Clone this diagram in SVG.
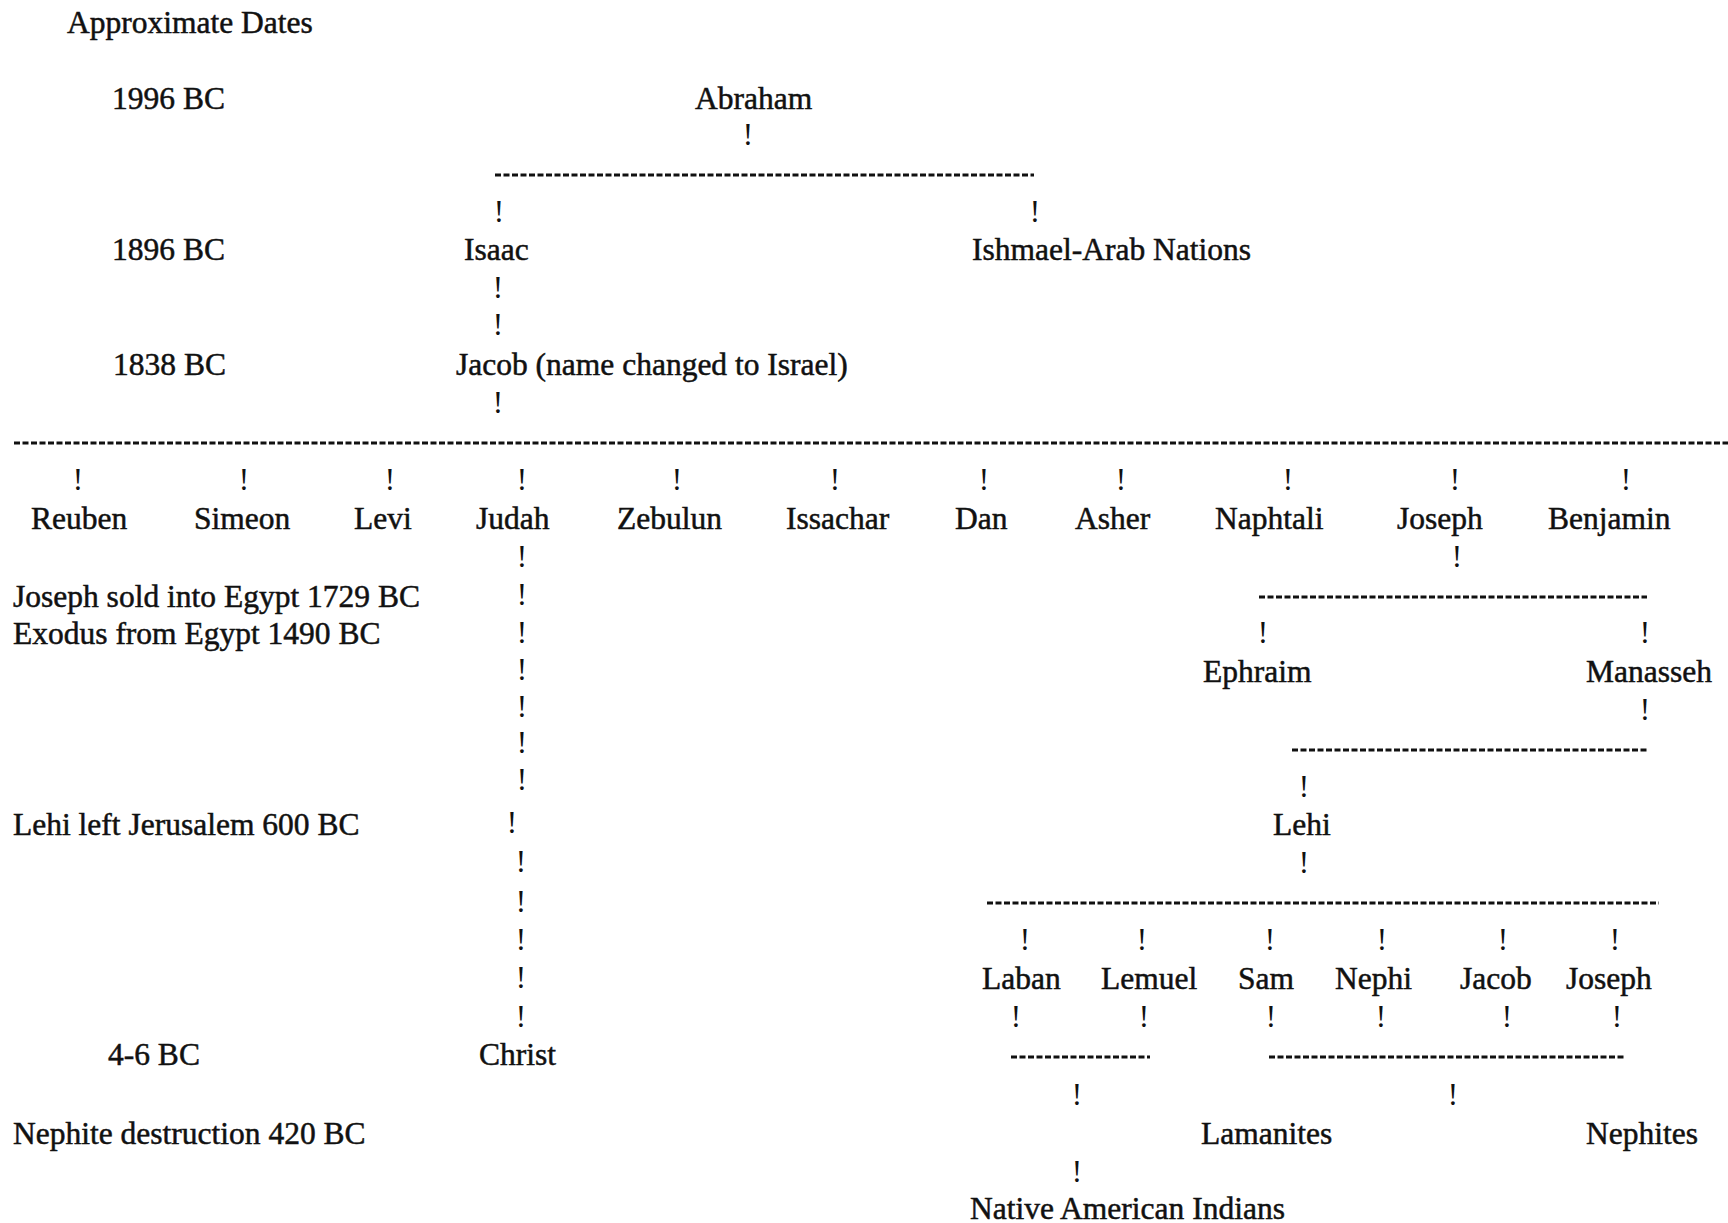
<svg xmlns="http://www.w3.org/2000/svg" width="1728" height="1223" viewBox="0 0 1728 1223">
<style>
text { font-family: "Liberation Serif", "Times New Roman", serif; font-size: 31.5px; fill: #111; }
.lbl text, .lbl { stroke: #111; stroke-width: 0.5; }
.bar { text-anchor: middle; font-size: 31px; }
.dash { stroke: #111; stroke-width: 3; stroke-dasharray: 6 2.5; fill: none; }
</style>
<rect width="1728" height="1223" fill="#fff"/>
<g id="dates" class="lbl" transform="translate(0,2)">
<text x="67" y="31">Approximate Dates</text>
<text x="112" y="107">1996 BC</text>
<text x="112" y="258">1896 BC</text>
<text x="113" y="373">1838 BC</text>
<text x="13" y="605">Joseph sold into Egypt 1729 BC</text>
<text x="13" y="642">Exodus from Egypt 1490 BC</text>
<text x="13" y="833">Lehi left Jerusalem 600 BC</text>
<text x="108" y="1063">4-6 BC</text>
<text x="13" y="1142">Nephite destruction 420 BC</text>
</g>
<g id="connectors">
<line class="dash" x1="495" y1="175" x2="1034" y2="175"/>
<line class="dash" x1="14" y1="443" x2="1728" y2="443"/>
<line class="dash" x1="1259" y1="597" x2="1647" y2="597"/>
<line class="dash" x1="1292" y1="750" x2="1647" y2="750"/>
<line class="dash" x1="987" y1="903" x2="1659" y2="903"/>
<line class="dash" x1="1011" y1="1057" x2="1150" y2="1057"/>
<line class="dash" x1="1269" y1="1057" x2="1626" y2="1057"/>
<text class="bar" x="748" y="145">!</text>
<text class="bar" x="499" y="222">!</text>
<text class="bar" x="1035" y="222">!</text>
<text class="bar" x="498" y="298">!</text>
<text class="bar" x="498" y="335">!</text>
<text class="bar" x="498" y="413">!</text>
<text class="bar" x="78" y="490">!</text>
<text class="bar" x="244" y="490">!</text>
<text class="bar" x="390" y="490">!</text>
<text class="bar" x="522" y="490">!</text>
<text class="bar" x="677" y="490">!</text>
<text class="bar" x="835" y="490">!</text>
<text class="bar" x="984" y="490">!</text>
<text class="bar" x="1121" y="490">!</text>
<text class="bar" x="1288" y="490">!</text>
<text class="bar" x="1455" y="490">!</text>
<text class="bar" x="1626" y="490">!</text>
<text class="bar" x="522" y="567">!</text>
<text class="bar" x="522" y="605">!</text>
<text class="bar" x="522" y="643">!</text>
<text class="bar" x="522" y="680">!</text>
<text class="bar" x="522" y="717">!</text>
<text class="bar" x="522" y="753">!</text>
<text class="bar" x="522" y="790">!</text>
<text class="bar" x="512" y="833">!</text>
<text class="bar" x="521" y="872">!</text>
<text class="bar" x="521" y="912">!</text>
<text class="bar" x="521" y="950">!</text>
<text class="bar" x="521" y="988">!</text>
<text class="bar" x="521" y="1027">!</text>
<text class="bar" x="1457" y="567">!</text>
<text class="bar" x="1263" y="643">!</text>
<text class="bar" x="1645" y="643">!</text>
<text class="bar" x="1645" y="720">!</text>
<text class="bar" x="1304" y="797">!</text>
<text class="bar" x="1304" y="873">!</text>
<text class="bar" x="1025" y="950">!</text>
<text class="bar" x="1142" y="950">!</text>
<text class="bar" x="1270" y="950">!</text>
<text class="bar" x="1382" y="950">!</text>
<text class="bar" x="1503" y="950">!</text>
<text class="bar" x="1615" y="950">!</text>
<text class="bar" x="1016" y="1027">!</text>
<text class="bar" x="1144" y="1027">!</text>
<text class="bar" x="1271" y="1027">!</text>
<text class="bar" x="1381" y="1027">!</text>
<text class="bar" x="1507" y="1027">!</text>
<text class="bar" x="1617" y="1027">!</text>
<text class="bar" x="1077" y="1105">!</text>
<text class="bar" x="1453" y="1105">!</text>
<text class="bar" x="1077" y="1182">!</text>
</g>
<g id="nodes" class="lbl" transform="translate(0,2)">
<g id="abraham"><text x="695" y="107">Abraham</text></g>
<g id="isaac"><text x="464" y="258">Isaac</text></g>
<g id="ishmael"><text x="972" y="258">Ishmael-Arab Nations</text></g>
<g id="jacob-israel"><text x="456" y="373">Jacob (name changed to Israel)</text></g>
<g id="reuben"><text x="31" y="527">Reuben</text></g>
<g id="simeon"><text x="194" y="527">Simeon</text></g>
<g id="levi"><text x="354" y="527">Levi</text></g>
<g id="judah"><text x="476" y="527">Judah</text></g>
<g id="zebulun"><text x="617" y="527">Zebulun</text></g>
<g id="issachar"><text x="786" y="527">Issachar</text></g>
<g id="dan"><text x="955" y="527">Dan</text></g>
<g id="asher"><text x="1075" y="527">Asher</text></g>
<g id="naphtali"><text x="1215" y="527">Naphtali</text></g>
<g id="joseph-tribe"><text x="1397" y="527">Joseph</text></g>
<g id="benjamin"><text x="1548" y="527">Benjamin</text></g>
<g id="ephraim"><text x="1203" y="680">Ephraim</text></g>
<g id="manasseh"><text x="1586" y="680">Manasseh</text></g>
<g id="lehi"><text x="1273" y="833">Lehi</text></g>
<g id="laban"><text x="982" y="987">Laban</text></g>
<g id="lemuel"><text x="1101" y="987">Lemuel</text></g>
<g id="sam"><text x="1238" y="987">Sam</text></g>
<g id="nephi"><text x="1335" y="987">Nephi</text></g>
<g id="jacob-son"><text x="1460" y="987">Jacob</text></g>
<g id="joseph-son"><text x="1566" y="987">Joseph</text></g>
<g id="christ"><text x="479" y="1063">Christ</text></g>
<g id="lamanites"><text x="1201" y="1142">Lamanites</text></g>
<g id="nephites"><text x="1586" y="1142">Nephites</text></g>
<g id="native-americans"><text x="970" y="1217">Native American Indians</text></g>
</g>
</svg>
